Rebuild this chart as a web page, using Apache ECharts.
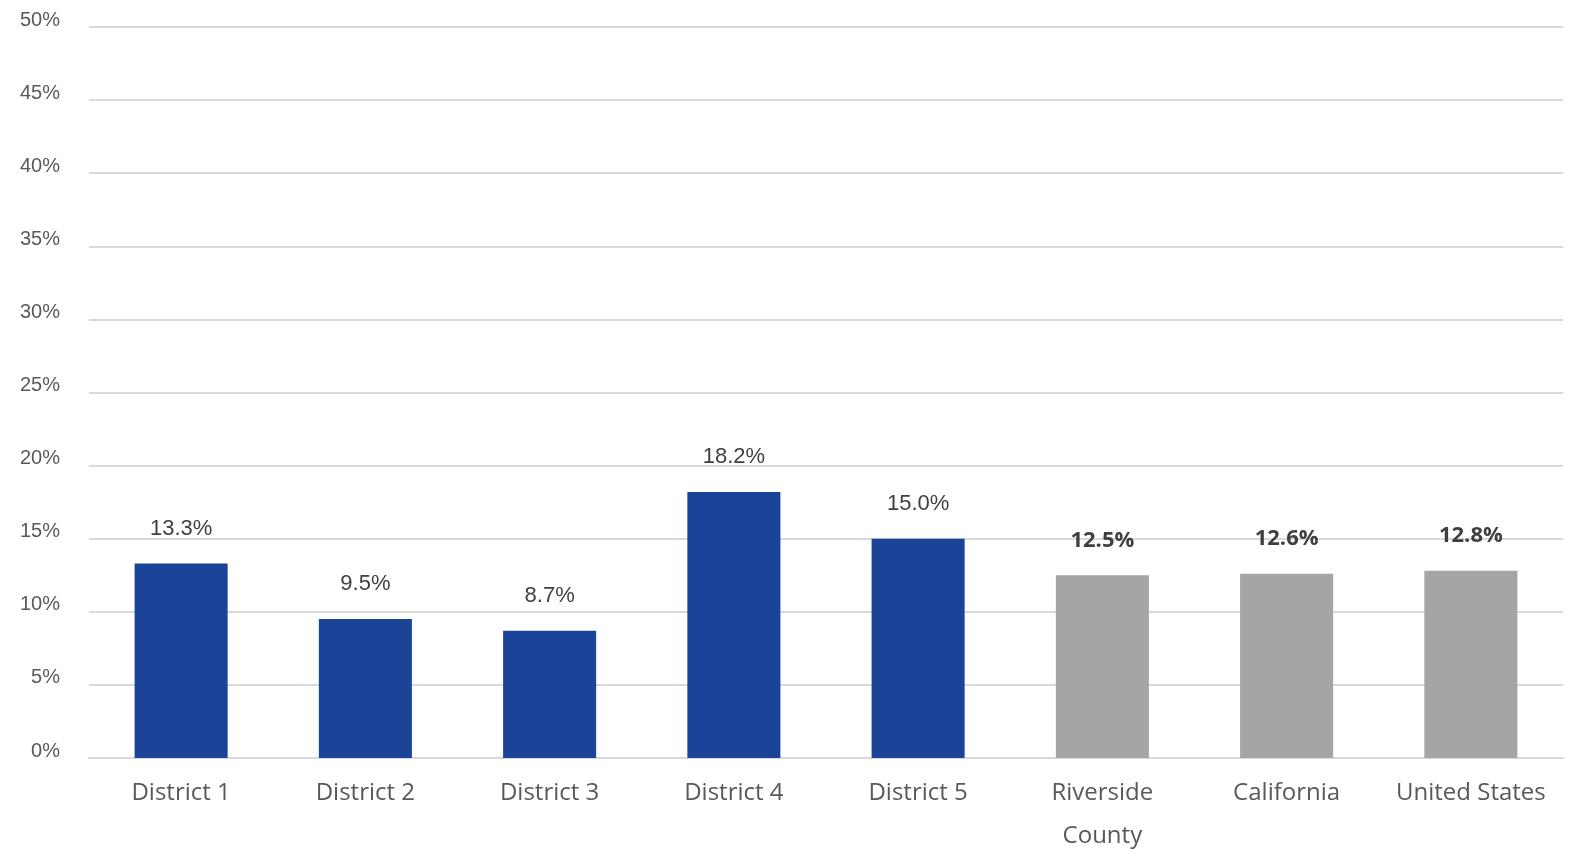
<!DOCTYPE html>
<html>
<head>
<meta charset="utf-8">
<style>
  html, body { margin: 0; padding: 0; background: #ffffff; }
  #chart { width: 1571px; height: 849px; }
</style>
<script src="https://cdn.jsdelivr.net/npm/echarts@6/dist/echarts.min.js"></script>
</head>
<body>
<div id="chart"></div>
<script>
// Share of population by area (percent)
const categories = ['District 1', 'District 2', 'District 3', 'District 4', 'District 5', 'Riverside\nCounty', 'California', 'United States'];
const values = [13.3, 9.5, 8.7, 18.2, 15.0, 12.5, 12.6, 12.8];
// true for the comparison areas (county, state, nation)
const isBenchmark = [false, false, false, false, false, true, true, true];

const BLUE = '#1B4398';
const GRAY = '#A5A5A5';

const chart = echarts.init(document.getElementById('chart'));

const seriesData = values.map((v, i) => ({
  value: v,
  itemStyle: { color: isBenchmark[i] ? GRAY : BLUE },
  label: isBenchmark[i]
    ? { fontWeight: 'bold', fontFamily: 'Open Sans', color: '#3F3F3F', fontSize: 22 }
    : { fontWeight: 'normal', fontFamily: 'Liberation Sans', color: '#404040', fontSize: 22 }
}));

chart.setOption({
  animation: false,
  grid: { left: 89, right: 8, top: 27, bottom: 91, containLabel: false, outerBoundsMode: 'none' },
  xAxis: {
    type: 'category',
    data: categories,
    axisLine: { show: true, lineStyle: { color: '#D9D9D9', width: 2 } },
    axisTick: { show: false },
    axisLabel: {
      color: '#595959',
      fontSize: 24,
      fontFamily: 'Open Sans',
      lineHeight: 43,
      margin: 14,
      interval: 0
    }
  },
  yAxis: {
    type: 'value',
    min: 0,
    max: 50,
    interval: 5,
    axisLine: { show: false },
    axisTick: { show: false },
    splitLine: { lineStyle: { color: '#D9D9D9', width: 2 } },
    axisLabel: {
      formatter: '{value}%',
      color: '#595959',
      fontSize: 20,
      fontFamily: 'Liberation Sans',
      margin: 29,
      verticalAlign: 'bottom',
      lineHeight: 14
    }
  },
  series: [{
    type: 'bar',
    data: seriesData,
    barWidth: '50.5%',
    label: {
      show: true,
      position: 'top',
      distance: 24,
      formatter: p => p.value.toFixed(1) + '%'
    }
  }]
});
</script>
</body>
</html>
